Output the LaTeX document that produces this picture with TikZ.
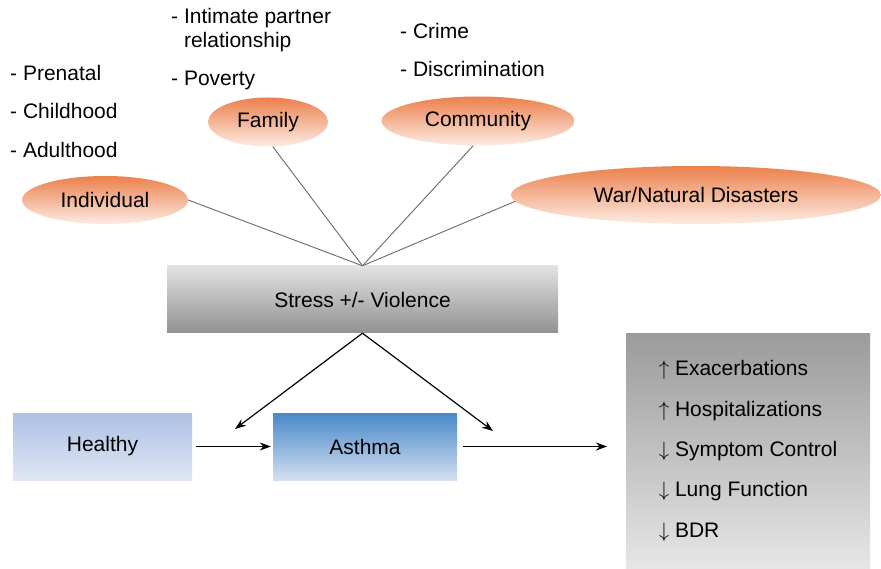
\documentclass[tikz,border=0pt]{standalone}
\usepackage{fontspec}
\setmainfont{Liberation Sans}
\usetikzlibrary{shapes.geometric,arrows.meta}
\definecolor{orangetop}{RGB}{236,128,76}
\definecolor{orangebot}{RGB}{252,236,228}
\definecolor{greytop}{RGB}{226,226,226}
\definecolor{greybot}{RGB}{145,145,145}
\definecolor{healthytop}{RGB}{172,193,228}
\definecolor{healthybot}{RGB}{224,230,245}
\definecolor{asthmatop}{RGB}{72,137,200}
\definecolor{asthmabot}{RGB}{212,222,241}
\definecolor{outtop}{RGB}{155,155,155}
\definecolor{outbot}{RGB}{230,230,230}
\definecolor{spokegrey}{RGB}{105,105,105}
\begin{document}
\begin{tikzpicture}[x=1pt,y=-1pt,
    font=\fontsize{21}{25}\selectfont,
    factor/.style={ellipse, inner sep=0pt, top color=orangetop, bottom color=orangebot},
    box/.style={rectangle, inner sep=0pt},
    listtext/.style={anchor=west, align=left, inner sep=0pt},
    spoke/.style={draw=spokegrey, line width=0.9pt},
    effect/.style={line width=1.2pt, -{Stealth[length=11pt,width=8pt]}}]
    \useasboundingbox (0,0) rectangle (881,569);

    \node[factor, minimum width=166pt, minimum height=48pt] (indiv) at (105,200) {Individual};
    \node[factor, minimum width=120pt, minimum height=49pt] (family) at (268,122) {Family};
    \node[factor, minimum width=193pt, minimum height=49pt] (community) at (478,121) {Community};
    \node[factor, minimum width=370pt, minimum height=58pt] (war) at (696,195) {War/Natural Disasters};

    \node[listtext, font=\fontsize{21}{38.5}\selectfont] (indivlist) at (10,111) {- Prenatal\\- Childhood\\- Adulthood};
    \node[listtext, font=\fontsize{21}{24}\selectfont] (familylist) at (171,49) {- Intimate partner\\\hphantom{- }relationship\\[14pt]- Poverty};
    \node[listtext, font=\fontsize{21}{38}\selectfont] (communitylist) at (400,50) {- Crime\\- Discrimination};

    \node[box, top color=greytop, bottom color=greybot, minimum width=391pt, minimum height=67pt] (stress) at (362.5,299.5) {Stress +/- Violence};
    \node[box, top color=healthytop, bottom color=healthybot, minimum width=179pt, minimum height=67pt] (healthy) at (102.5,446.5) {Healthy};
    \node[box, top color=asthmatop, bottom color=asthmabot, minimum width=184pt, minimum height=67pt] (asthma) at (365,446.5) {Asthma};
    \node[box, top color=outtop, bottom color=outbot, minimum width=244pt, minimum height=234pt, align=left, font=\fontsize{21}{40.3}\selectfont] (outcomes) at (748,451) {$\uparrow$ Exacerbations\\$\uparrow$ Hospitalizations\\$\downarrow$ Symptom Control\\$\downarrow$ Lung Function\\$\downarrow$ BDR};

    \draw[spoke] (indiv.east) -- (stress.north);
    \draw[spoke] (family.-79) -- (stress.north);
    \draw[spoke] (community.-101) -- (stress.north);
    \draw[spoke] (war.182) -- (stress.north);

    \coordinate (lefttip) at (235,429);
    \coordinate (righttip) at (493,431);
    \coordinate (outtip) at (607,446.5);

    \draw[effect] (stress.south) -- (lefttip);
    \draw[effect] (stress.south) -- (righttip);
    \draw[effect] ([xshift=4pt]healthy.east) -- ([xshift=-2pt]asthma.west);
    \draw[effect] ([xshift=6pt]asthma.east) -- (outtip);

  \end{tikzpicture}
\end{document}
